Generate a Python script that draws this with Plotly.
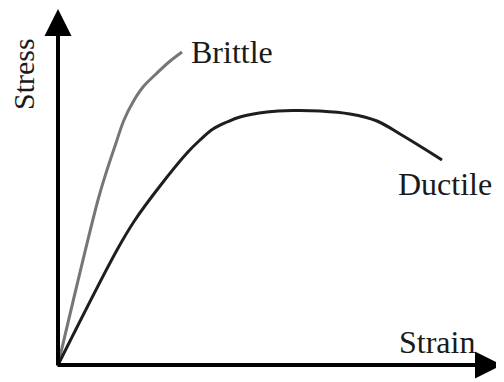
import plotly.graph_objects as go

# Data (arbitrary units)
brittle_strain = [0, 0.40, 0.49, 0.58, 0.66, 0.75, 0.85, 0.98, 1.11, 1.24]
brittle_stress = [0, 1.65, 1.95, 2.22, 2.45, 2.63, 2.78, 2.91, 3.03, 3.13]

ductile_strain = [0, 0.59, 0.77, 1.02, 1.29, 1.42, 1.55, 1.69, 1.82, 2.09, 2.35, 2.62, 2.92, 3.19, 3.42, 3.65, 3.84]
ductile_stress = [0, 1.15, 1.45, 1.79, 2.12, 2.25, 2.36, 2.43, 2.48, 2.53, 2.545, 2.54, 2.51, 2.44, 2.31, 2.17, 2.05]

FONT = "Liberation Serif"

fig = go.Figure()
fig.add_trace(go.Scatter(x=brittle_strain, y=brittle_stress, mode="lines",
                         line=dict(color="#767676", width=3, shape="spline", smoothing=1.0),
                         hoverinfo="skip", showlegend=False))
fig.add_trace(go.Scatter(x=ductile_strain, y=ductile_stress, mode="lines",
                         line=dict(color="#1e1e1e", width=3, shape="spline", smoothing=1.0),
                         hoverinfo="skip", showlegend=False))

# axis arrows
fig.add_annotation(x=0, y=3.56, ax=0, ay=-0.02, xref="x", yref="y", axref="x", ayref="y",
                   showarrow=True, arrowhead=2, arrowsize=1.35, arrowwidth=4, arrowcolor="black", text="")
fig.add_annotation(x=4.44, y=0, ax=-0.02, ay=0, xref="x", yref="y", axref="x", ayref="y",
                   showarrow=True, arrowhead=2, arrowsize=1.35, arrowwidth=4, arrowcolor="black", text="")

tf = dict(family=FONT, size=32, color="#1a1a1a")
fig.add_annotation(x=-0.35, y=2.91, text="Stress", textangle=-90, showarrow=False,
                   font=dict(family=FONT, size=30, color="#1a1a1a"), borderpad=0)
fig.add_annotation(x=1.31, y=3.13, text="Brittle", xanchor="left", showarrow=False, font=tf)
fig.add_annotation(x=3.87, y=1.81, text="Ductile", showarrow=False, font=tf)
fig.add_annotation(x=3.79, y=0.23, text="Strain", showarrow=False, font=tf)

fig.update_layout(
    width=496, height=374,
    margin=dict(l=0, r=0, t=0, b=0),
    paper_bgcolor="white", plot_bgcolor="white",
    xaxis=dict(range=[-0.50, 4.46], visible=False, fixedrange=True),
    yaxis=dict(range=[-0.17, 3.57], visible=False, fixedrange=True),
)

fig.write_html("out.html")
